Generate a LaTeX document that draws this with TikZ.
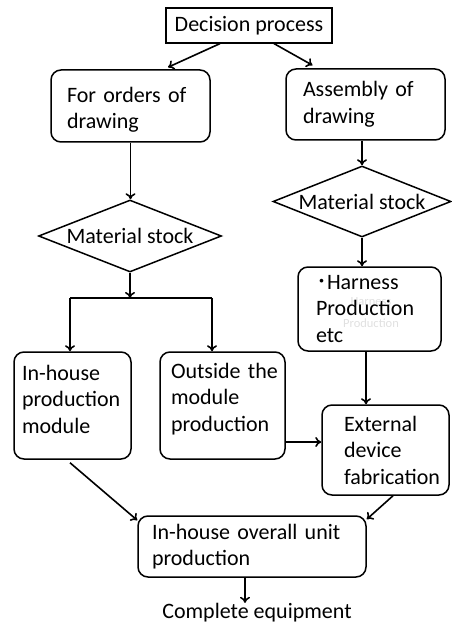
\documentclass[tikz,border=0pt]{standalone}
\usepackage{fontspec}
\setmainfont{Carlito}
\newfontfamily\cjk{Noto Sans CJK JP}
\usetikzlibrary{shapes.geometric,arrows.meta,calc}
\begin{document}
\begin{tikzpicture}[x=1pt,y=-1pt,
  font=\fontsize{22}{26.5}\selectfont,
  line width=1.5pt,
  box/.style={draw, rounded corners=10pt, align=left, inner ysep=0pt},
  dia/.style={draw, diamond, aspect=2.5, inner sep=0pt},
  ghost/.style={text=black!12, font=\fontsize{12.5}{14}\selectfont, inner sep=0pt},
  arr/.style={-{To[length=6pt,width=10pt]}, line width=1.6pt}]
\useasboundingbox (0,0) rectangle (451,628);

\node[draw, minimum width=166pt, minimum height=35pt, inner sep=0pt, line width=1.2pt] (dec) at (249,25.5) {Decision process};

\node[box, text width=127pt, inner xsep=16pt, minimum height=72pt, text depth=23pt] (ord) at (130.5,106) {For orders of\\drawing};
\node[box, text width=125pt, inner xsep=17pt, minimum height=71pt] (asm) at (365.5,104.5) {Assembly of\\drawing};

\node[dia, minimum width=183pt, minimum height=72pt] (dL) at (130,236) {Material stock};
\node[dia, minimum width=178pt, minimum height=71pt] (dR) at (362,201.5) {Material stock};

\node[ghost] (gh1) at (371,302) {Harness};
\node[ghost] (gh2) at (371,323) {Production};
\node[box, text width=107pt, inner xsep=18pt, minimum height=84pt] (har) at (369.5,309) {{\cjk ･}Harness\\Production\\etc};

\node[box, text width=101pt, inner xsep=8pt, minimum height=107pt, text depth=66pt] (inh) at (72.5,405.5) {In-house\\production\\module};
\node[box, text width=103pt, inner xsep=11pt, minimum height=107pt, text depth=70pt] (out) at (222.5,405.5) {Outside~the\\module\\production};
\node[box, text width=83pt, inner xsep=22pt, minimum height=90pt] (ext) at (385.5,450) {External\\device\\fabrication};

\node[box, text width=200pt, inner xsep=14pt, minimum height=61pt] (unit) at (252,546.5) {In-house~overall~unit\\production};

\node[inner sep=0pt] (comp) at (257,613) {Complete equipment};

\coordinate (sp) at (129,298);
\coordinate (sL) at (70,298);
\coordinate (sR) at (212,298);

\draw[arr] ([xshift=-29pt]dec.south) -- ([xshift=37.5pt,yshift=2pt]ord.north);
\draw[arr] ([xshift=25pt]dec.south) -- ([xshift=-53pt,yshift=3pt]asm.north);
\draw[arr] (ord.south) -- (ord.south |- dL.north);
\draw[arr] (dR.north |- asm.south) -- (dR.north);
\draw[arr] (dR.south) -- (dR.south |- har.north);
\draw[arr] (dL.south) -- (dL.south |- sp);
\draw (sL) -- (sR);
\draw[arr] (sL) -- (sL |- inh.north);
\draw[arr] (sR) -- (sR |- out.north);
\draw[arr] ([xshift=-3.5pt]har.south) -- ([xshift=-3.5pt]har.south |- ext.north);
\draw[arr] ([yshift=-36.5pt]out.east) -- ([yshift=-36.5pt]out.east -| ext.west);
\draw[arr] ([xshift=-2.5pt,yshift=-3pt]inh.south) -- ([yshift=-5pt]unit.north west);
\draw[arr] ([xshift=7.5pt]ext.south) -- ([yshift=-4pt]unit.north east);
\draw[arr] ([xshift=-7pt]unit.south) -- ([xshift=-7pt]unit.south |- comp.north);
\end{tikzpicture}
\end{document}
